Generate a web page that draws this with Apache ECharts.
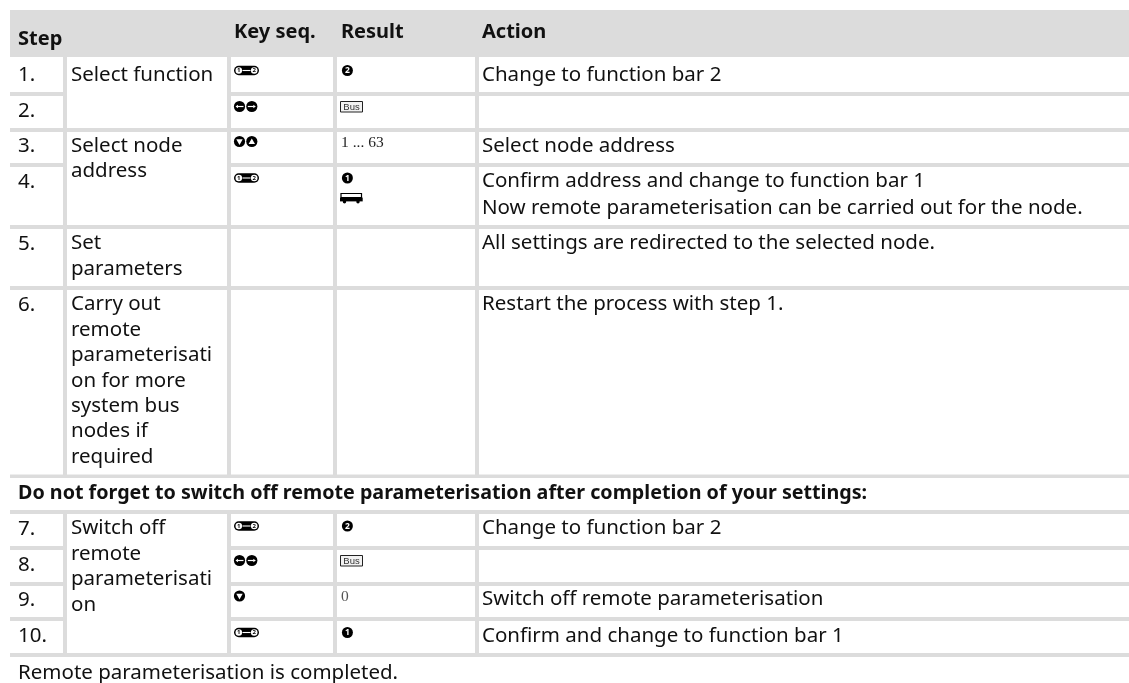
<!DOCTYPE html>
<html>
<head>
<meta charset="utf-8">
<title>Remote parameterisation</title>
<style>
  html, body { margin: 0; padding: 0; background: #fff; }
  #chart { width: 1129px; height: 683px; }
</style>
<script src="https://cdn.jsdelivr.net/npm/echarts@6/dist/echarts.min.js"></script>
</head>
<body>
<div id="chart"></div>
<script>
// table content
const headers = ['Step', 'Key seq.', 'Result', 'Action']
const stepNumbers = ['1.', '2.', '3.', '4.', '5.', '6.', '7.', '8.', '9.', '10.']
const stepNames = [
  ['Select function'],
  ['Select node', 'address'],
  ['Set', 'parameters'],
  ['Carry out', 'remote', 'parameterisati', 'on for more', 'system bus', 'nodes if', 'required'],
  ['Switch off', 'remote', 'parameterisati', 'on']
]
const keySeq = ['pill', 'leftRight', 'downUp', 'pill', '', '', 'pill', 'leftRight', 'down', 'pill']
const results = ['badge2', 'bus', '1 ... 63', 'badge1+van', '', '', 'badge2', 'bus', '0', 'badge1']
const actions = [
  ['Change to function bar 2'],
  [],
  ['Select node address'],
  ['Confirm address and change to function bar 1', 'Now remote parameterisation can be carried out for the node.'],
  ['All settings are redirected to the selected node.'],
  ['Restart the process with step 1.'],
  ['Change to function bar 2'],
  [],
  ['Switch off remote parameterisation'],
  ['Confirm and change to function bar 1']
]
const warning = 'Do not forget to switch off remote parameterisation after completion of your settings:'
const footer = 'Remote parameterisation is completed.'

// layout of the table, in page pixels
const W = 1129
const H = 683
const colLeft = [10, 67, 231, 337, 479]   // left edge of each white column
const colRight = [63, 227, 333, 475, W]
const rowTop = [57, 96, 132, 167, 229, 290, 514, 550, 586, 621]
const rowBottom = [92, 128, 163, 225, 286, 474.5, 546, 582, 617, 653]
const firstLine = [75.5, 111, 146.5, 182, 244, 305, 529, 565, 600, 636.5]
const iconMiddle = [70.5, 106.5, 141.5, 178, 0, 0, 526, 560.5, 596, 632.5]
// which rows each step name spans
const nameRows = [[0, 1], [2, 3], [4, 4], [5, 5], [6, 9]]

const FONT = '"Noto Sans", sans-serif'
const INK = '#111'
const GREY = '#dcdcdc'
const DARK = '#000'

// white cells, the grey rules are just what is left of the background
const cells = []
stepNumbers.forEach((s, r) => {
  cells.push([colLeft[0], rowTop[r], colRight[0], rowBottom[r]])
  cells.push([colLeft[2], rowTop[r], colRight[2], rowBottom[r]])
  cells.push([colLeft[3], rowTop[r], colRight[3], rowBottom[r]])
  cells.push([colLeft[4], rowTop[r], colRight[4], rowBottom[r]])
})
nameRows.forEach(([a, b]) => {
  cells.push([colLeft[1], rowTop[a], colRight[1], rowBottom[b]])
})
cells.push([10, 478, W, 510])

const texts = []
function addText(x, y, text, opt) {
  texts.push(Object.assign({ x, y, text, size: 20.5, weight: 'normal', fill: INK, font: FONT }, opt))
}
const LINE = 25.4

addText(18, 39, headers[0], { weight: 'bold', size: 20 })
addText(234, 32, headers[1], { weight: 'bold', size: 20 })
addText(341, 32, headers[2], { weight: 'bold', size: 20 })
addText(482, 32, headers[3], { weight: 'bold', size: 20 })

stepNumbers.forEach((s, r) => addText(18, firstLine[r], s))
nameRows.forEach(([a], i) => {
  stepNames[i].forEach((line, l) => addText(71, firstLine[a] + l * LINE - 0.5, line))
})
actions.forEach((lines, r) => {
  lines.forEach((line, l) => addText(482, firstLine[r] + l * 27 - 0.5, line))
})
addText(18, 493, warning, { weight: 'bold', size: 19.7 })
addText(18, 673, footer)

// key and result glyphs, placed by the middle of their row
const icons = []
keySeq.forEach((k, r) => {
  if (k) icons.push({ kind: k, x: 234, y: iconMiddle[r] - (k === 'pill' ? 4.75 : 5.5) })
})
results.forEach((v, r) => {
  if (!v) return
  const mid = iconMiddle[r]
  v.split('+').forEach(k => {
    if (k === 'badge1' || k === 'badge2') icons.push({ kind: k, x: 342, y: mid - 5.5 })
    else if (k === 'bus') icons.push({ kind: k, x: 340, y: mid - 5.5 })
    else if (k === 'van') icons.push({ kind: k, x: 340, y: 193 })
    else addText(341, mid + 1, k, { font: '"Liberation Serif", serif', size: 15.5, fill: k === '0' ? '#555' : '#222' })
  })
})

function circle(cx, cy, r, fill) {
  return { type: 'circle', shape: { cx, cy, r }, style: { fill } }
}
function tri(points, fill) {
  return { type: 'polygon', shape: { points }, style: { fill } }
}
function glyphText(x, y, t, size, fill) {
  return { type: 'text', x, y, style: { text: t, fill, font: 'bold ' + size + 'px "Noto Sans", sans-serif', align: 'center', verticalAlign: 'middle' } }
}
// arrows inside the round keys
function leftKey(cx, cy) {
  return [circle(cx, cy, 5.6, DARK),
    { type: 'rect', shape: { x: cx - 2, y: cy - 0.6, width: 6, height: 1.2 }, style: { fill: '#fff' } },
    tri([[cx - 4, cy], [cx - 1.5, cy - 1.8], [cx - 1.5, cy + 1.8]], '#fff')]
}
function rightKey(cx, cy) {
  return [circle(cx, cy, 5.6, DARK),
    { type: 'rect', shape: { x: cx - 4, y: cy - 0.6, width: 6, height: 1.2 }, style: { fill: '#fff' } },
    tri([[cx + 4, cy], [cx + 1.5, cy - 1.8], [cx + 1.5, cy + 1.8]], '#fff')]
}
function downKey(cx, cy) {
  return [circle(cx, cy, 5.6, DARK), tri([[cx - 3.2, cy - 2.2], [cx + 3.2, cy - 2.2], [cx, cy + 3.4]], '#fff')]
}
function upKey(cx, cy) {
  return [circle(cx, cy, 5.6, DARK), tri([[cx - 3.2, cy + 2.6], [cx + 3.2, cy + 2.6], [cx, cy - 3]], '#fff')]
}

function buildIcon(kind) {
  switch (kind) {
    case 'pill':
      return [
        { type: 'rect', shape: { x: 0, y: 0, width: 25, height: 9.5, r: 4.75 }, style: { fill: DARK } },
        circle(4.8, 4.75, 3.3, '#fff'), circle(20.2, 4.75, 3.3, '#fff'),
        glyphText(4.8, 4.9, '1', 6, DARK), glyphText(20.2, 4.9, '2', 6, DARK),
        { type: 'rect', shape: { x: 8.5, y: 4.2, width: 8, height: 1.1 }, style: { fill: '#fff' } }
      ]
    case 'leftRight':
      return leftKey(5.5, 5.5).concat(rightKey(17.8, 5.5))
    case 'downUp':
      return downKey(5.5, 5.5).concat(upKey(17.8, 5.5))
    case 'down':
      return downKey(5.5, 5.5)
    case 'badge1':
      return [circle(5.4, 5.5, 5.5, DARK), glyphText(5.4, 5.7, '1', 8.5, '#fff')]
    case 'badge2':
      return [circle(5.4, 5.5, 5.5, DARK), glyphText(5.4, 5.7, '2', 8.5, '#fff')]
    case 'bus':
      return [
        { type: 'rect', shape: { x: 0.5, y: 0.5, width: 22, height: 10.5 }, style: { fill: '#f2f2f2', stroke: '#222', lineWidth: 1 } },
        { type: 'text', x: 11.5, y: 6, style: { text: 'Bus', fill: '#333', font: '9.5px "Liberation Sans Narrow", "Liberation Sans", sans-serif', align: 'center', verticalAlign: 'middle' } }
      ]
    case 'van':
      return [
        { type: 'rect', shape: { x: 1, y: 0.5, width: 20.5, height: 4 }, style: { fill: '#fff', stroke: DARK, lineWidth: 1.2 } },
        { type: 'rect', shape: { x: 0, y: 4.6, width: 22.7, height: 3.8 }, style: { fill: DARK } },
        circle(4.5, 8.8, 1.7, DARK), circle(18, 8.8, 1.7, DARK)
      ]
  }
  return []
}

function renderBox(fill) {
  return function (params, api) {
    const a = api.coord([api.value(0), api.value(1)])
    const b = api.coord([api.value(2), api.value(3)])
    return { type: 'rect', shape: { x: a[0], y: a[1], width: b[0] - a[0], height: b[1] - a[1] }, style: { fill } }
  }
}

const chart = echarts.init(document.getElementById('chart'), null, { renderer: 'canvas' })
chart.setOption({
  animation: false,
  backgroundColor: '#fff',
  grid: { left: 0, right: 0, top: 0, bottom: 0 },
  xAxis: { type: 'value', min: 0, max: W, show: false },
  yAxis: { type: 'value', min: 0, max: H, inverse: true, show: false },
  series: [
    {
      // grey table body
      type: 'custom',
      silent: true,
      z: 1,
      data: [[10, 10, W, 657]],
      renderItem: renderBox(GREY)
    },
    {
      type: 'custom',
      silent: true,
      z: 2,
      data: cells,
      renderItem: renderBox('#fff')
    },
    {
      type: 'custom',
      silent: true,
      z: 3,
      data: texts.map(t => [t.x, t.y]),
      renderItem(params, api) {
        const t = texts[params.dataIndex]
        const p = api.coord([api.value(0), api.value(1)])
        return {
          type: 'text',
          x: p[0],
          y: p[1],
          style: {
            text: t.text,
            fill: t.fill,
            font: t.weight + ' ' + t.size + 'px ' + t.font,
            align: 'left',
            verticalAlign: 'middle'
          }
        }
      }
    },
    {
      type: 'custom',
      silent: true,
      z: 3,
      data: icons.map(i => [i.x, i.y]),
      renderItem(params, api) {
        const p = api.coord([api.value(0), api.value(1)])
        return { type: 'group', x: p[0], y: p[1], children: buildIcon(icons[params.dataIndex].kind) }
      }
    }
  ]
})
</script>
</body>
</html>
